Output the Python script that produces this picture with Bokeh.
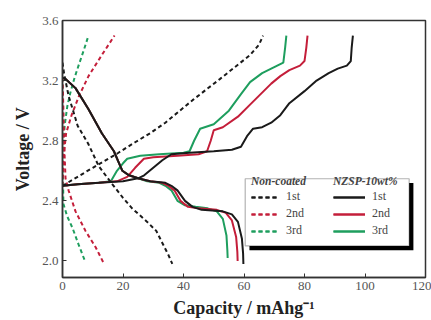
from bokeh.plotting import figure
from bokeh.models import Legend, LegendItem, BoxAnnotation, FixedTicker
from bokeh.embed import file_html
from bokeh.resources import INLINE

# ---- data ----
# Non-coated (dashed)
nc1_dis_x = [0, 0.5, 2, 5, 8.5, 12, 16.5, 20, 23, 28, 31, 33, 35, 36.3]
nc1_dis_y = [3.32, 3.25, 3.1, 2.9, 2.78, 2.63, 2.51, 2.42, 2.35, 2.26, 2.2, 2.12, 2.04, 1.98]
nc1_chg_x = [0, 5, 10, 18.5, 24, 29, 34, 43, 52, 62, 65, 66.3]
nc1_chg_y = [2.5, 2.56, 2.62, 2.72, 2.79, 2.85, 2.92, 3.07, 3.21, 3.37, 3.44, 3.5]
nc2_dis_x = [0, 0.3, 0.6, 1, 2, 4.3, 7.6, 11, 13.5]
nc2_dis_y = [3.22, 3.0, 2.75, 2.55, 2.47, 2.33, 2.2, 2.09, 1.99]
nc2_chg_x = [0, 0.4, 1.2, 3, 5.5, 8.6, 13, 17.2]
nc2_chg_y = [2.5, 2.7, 2.85, 2.97, 3.1, 3.23, 3.37, 3.5]
nc3_dis_x = [0, 0.1, 0.2, 0.3, 1.5, 3.3, 5.3, 7.6]
nc3_dis_y = [3.22, 2.8, 2.5, 2.38, 2.3, 2.22, 2.11, 1.99]
nc3_chg_x = [0, 0.2, 0.7, 1.6, 2.6, 4, 5.3, 7, 8.6]
nc3_chg_y = [2.5, 2.7, 2.9, 3.03, 3.12, 3.22, 3.3, 3.4, 3.5]

# NZSP-10wt% (solid)
nz1_dis_x = [0, 1, 4.3, 8.6, 13, 17, 18.5, 19.8, 22, 25, 29, 34, 36, 38, 40.5, 43, 46, 53, 56, 58, 59.3, 59.7, 59.8]
nz1_dis_y = [3.22, 3.21, 3.15, 3.01, 2.85, 2.73, 2.66, 2.6, 2.57, 2.55, 2.53, 2.52, 2.5, 2.47, 2.4, 2.36, 2.34, 2.33, 2.31, 2.26, 2.15, 2.05, 1.98]
nz1_chg_x = [0, 5, 12, 20, 25, 27, 30, 33, 36, 42, 50, 56, 59, 61, 63, 66, 69, 72, 75, 80, 84, 88, 91, 94, 95.3, 95.6, 96]
nz1_chg_y = [2.5, 2.51, 2.52, 2.53, 2.55, 2.57, 2.62, 2.67, 2.71, 2.72, 2.73, 2.74, 2.76, 2.83, 2.88, 2.89, 2.92, 2.97, 3.05, 3.13, 3.2, 3.25, 3.28, 3.3, 3.33, 3.42, 3.5]
nz2_dis_x = [0, 1, 4.3, 8.6, 13, 17, 18.5, 19.8, 22, 25, 29, 33, 35, 37, 39, 41.5, 45, 51, 54, 56, 57.4, 57.8, 57.9]
nz2_dis_y = [3.22, 3.21, 3.15, 3.01, 2.85, 2.73, 2.66, 2.6, 2.57, 2.55, 2.53, 2.52, 2.5, 2.47, 2.4, 2.36, 2.35, 2.34, 2.32, 2.27, 2.16, 2.06, 2.0]
nz2_chg_x = [0, 5, 12, 18, 21.4, 24, 26.9, 30, 38, 45, 47.8, 49, 50, 53, 58, 62, 65, 69, 72, 75, 78.5, 80, 80.6, 81]
nz2_chg_y = [2.5, 2.51, 2.52, 2.53, 2.56, 2.62, 2.68, 2.69, 2.7, 2.71, 2.73, 2.8, 2.87, 2.89, 2.96, 3.04, 3.1, 3.18, 3.23, 3.27, 3.3, 3.33, 3.42, 3.5]
nz3_dis_x = [0, 1, 4.3, 8.6, 13, 17, 18.5, 19.8, 22, 25, 28, 32, 34, 36, 38, 40.5, 44, 48, 51, 53, 54.2, 54.5, 54.6]
nz3_dis_y = [3.22, 3.21, 3.15, 3.01, 2.85, 2.73, 2.66, 2.6, 2.57, 2.55, 2.53, 2.52, 2.5, 2.47, 2.4, 2.37, 2.36, 2.35, 2.33, 2.28, 2.17, 2.07, 2.02]
nz3_chg_x = [0, 5, 12, 16, 18, 20, 21.4, 25.7, 32, 40, 42, 43.5, 45.5, 50, 55, 59, 62, 66, 69, 71, 73, 73.6, 74]
nz3_chg_y = [2.5, 2.51, 2.52, 2.53, 2.6, 2.65, 2.68, 2.7, 2.71, 2.72, 2.73, 2.8, 2.88, 2.91, 3.0, 3.11, 3.19, 3.25, 3.28, 3.3, 3.32, 3.42, 3.5]

cycle_labels = ["1st", "2nd", "3rd"]
x_ticks = [0, 20, 40, 60, 80, 100, 120]
y_ticks = [2.0, 2.4, 2.8, 3.2, 3.6]
y_tick_labels = ["2.0", "2.4", "2.8", "3.2", "3.6"]

# ---- style ----
BLACK = "#1a1a1a"
RED = "#c41e3a"
GREEN = "#1e9e5e"
colors = [BLACK, RED, GREEN]
SERIF = "Liberation Serif"

p = figure(width=431, height=320, x_range=(0, 120), y_range=(1.89, 3.6),
           output_backend="svg", toolbar_location=None,
           min_border_left=62, min_border_right=6, min_border_top=20, min_border_bottom=43)
p.grid.visible = False
p.outline_line_color = "#333333"
p.outline_line_width = 1.5
p.background_fill_color = "white"
p.border_fill_color = "white"

p.xaxis.ticker = FixedTicker(ticks=x_ticks)
p.yaxis.ticker = FixedTicker(ticks=y_ticks)
p.yaxis.major_label_overrides = {t: l for t, l in zip(y_ticks, y_tick_labels)}
for ax in (p.xaxis, p.yaxis):
    ax.major_tick_in = 4
    ax.major_tick_out = 0
    ax.minor_tick_line_color = None
    ax.axis_line_color = "#333333"
    ax.axis_line_width = 1.5
    ax.major_tick_line_color = "#333333"
    ax.major_label_text_font = SERIF
    ax.major_label_text_font_size = "13px"
    ax.major_label_text_color = "#555555"
    ax.major_label_standoff = 4
    ax.axis_label_text_font = SERIF
    ax.axis_label_text_font_style = "bold"
    ax.axis_label_text_font_size = "18px"
    ax.axis_label_text_color = "#222222"

p.xaxis.axis_label = "Capacity / mAhg\u207b\u00b9"
p.xaxis.axis_label_standoff = 5
p.yaxis.axis_label = "Voltage / V"
p.yaxis.axis_label_standoff = 6

nc_x = [(nc1_dis_x, nc1_chg_x), (nc2_dis_x, nc2_chg_x), (nc3_dis_x, nc3_chg_x)]
nc_y = [(nc1_dis_y, nc1_chg_y), (nc2_dis_y, nc2_chg_y), (nc3_dis_y, nc3_chg_y)]
nz_x = [(nz1_dis_x, nz1_chg_x), (nz2_dis_x, nz2_chg_x), (nz3_dis_x, nz3_chg_x)]
nz_y = [(nz1_dis_y, nz1_chg_y), (nz2_dis_y, nz2_chg_y), (nz3_dis_y, nz3_chg_y)]

nc_r, nz_r = {}, {}
for i in [2, 1, 0]:
    nc_r[i] = [p.line(xs, ys, line_color=colors[i], line_width=2, line_dash="4 3")
               for xs, ys in zip(nc_x[i], nc_y[i])]
    nz_r[i] = [p.line(xs, ys, line_color=colors[i], line_width=2)
               for xs, ys in zip(nz_x[i], nz_y[i])]

nc_items = [LegendItem(label=cycle_labels[i], renderers=nc_r[i]) for i in range(3)]
nz_items = [LegendItem(label=cycle_labels[i], renderers=nz_r[i]) for i in range(3)]

# legend frame with shadow
box_l, box_r, box_t, box_b = 60.4, 114.6, 2.547, 2.1
p.add_layout(BoxAnnotation(left=box_l + 1.4, right=box_r + 1.4, top=box_t - 0.028, bottom=box_b - 0.028,
                           fill_color="black", fill_alpha=1, line_color=None, level="overlay"))
p.add_layout(BoxAnnotation(left=box_l, right=box_r, top=box_t, bottom=box_b,
                           fill_color="white", fill_alpha=1, line_color="black", line_width=1.2, level="overlay"))

def make_legend(items, title, loc, gw):
    return Legend(items=items, title=title, location=loc,
                  title_text_font=SERIF, title_text_font_style="bold italic",
                  title_text_font_size="11.5px", title_standoff=2,
                  label_text_font=SERIF, label_text_font_size="12px",
                  glyph_width=gw, glyph_height=12, label_height=12, label_standoff=7,
                  spacing=2, padding=3, margin=0,
                  border_line_alpha=0, background_fill_alpha=0)

p.add_layout(make_legend(nc_items, "Non-coated", (186, 36), 28))
p.add_layout(make_legend(nz_items, "NZSP-10wt%", (268, 36), 32))

open("out.html", "w").write(file_html(p, INLINE))
